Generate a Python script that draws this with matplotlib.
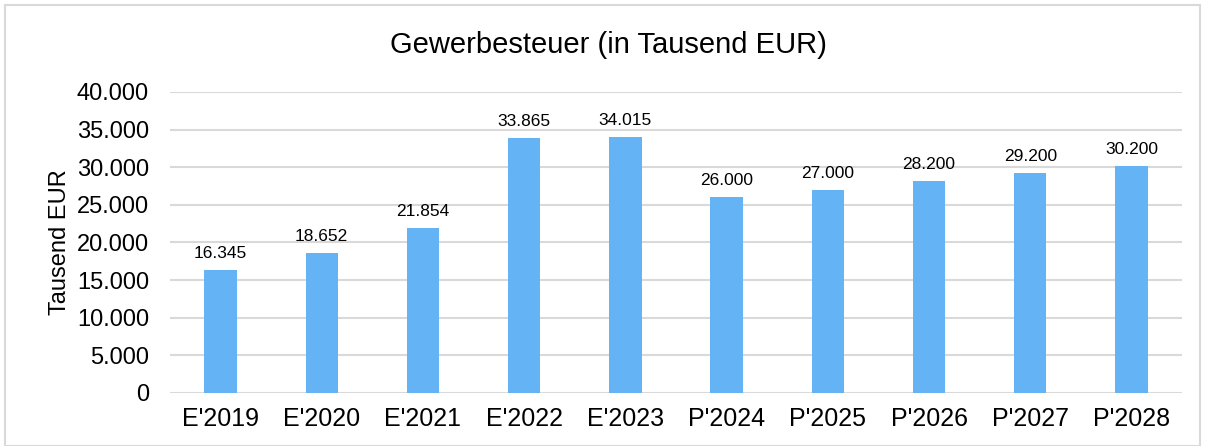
import matplotlib.pyplot as plt
from matplotlib.patches import Rectangle
from matplotlib.ticker import FuncFormatter

plt.rcParams['font.family'] = ['Liberation Sans', 'DejaVu Sans']

jahre = ["E'2019", "E'2020", "E'2021", "E'2022", "E'2023",
         "P'2024", "P'2025", "P'2026", "P'2027", "P'2028"]
werte = [16345, 18652, 21854, 33865, 34015, 26000, 27000, 28200, 29200, 30200]
y_ticks = [0, 5000, 10000, 15000, 20000, 25000, 30000, 35000, 40000]


def punkt(v, pos=None):
    return f"{int(v):,}".replace(",", ".")


fig = plt.figure(figsize=(12.05, 4.46), dpi=100)
fig.patches.append(Rectangle((5 / 1205, 0), 1195 / 1205, 441 / 446,
                             transform=fig.transFigure, fill=False,
                             edgecolor='#D9D9D9', linewidth=1.5))
ax = fig.add_axes([0.141, 0.119, 0.840, 0.675])

x = range(len(jahre))
bars = ax.bar(x, werte, width=0.32, color='#63B3F5', zorder=3)
for b, v in zip(bars, werte):
    ax.text(b.get_x() + b.get_width() / 2, v + 1200, punkt(v),
            ha='center', va='bottom', fontsize=12.5, color='#000000')

ax.set_xlim(-0.5, len(jahre) - 0.5)
ax.set_ylim(0, 40000)
ax.set_yticks(y_ticks)
ax.yaxis.set_major_formatter(FuncFormatter(punkt))
ax.set_xticks(list(x))
ax.set_xticklabels(jahre)
ax.tick_params(axis='y', length=0, labelsize=17, colors='#000000', pad=15)
ax.tick_params(axis='x', length=0, labelsize=18, colors='#000000', pad=10)
ax.grid(axis='y', color='#D9D9D9', linewidth=1.5, zorder=0)
for s in ax.spines.values():
    s.set_visible(False)

ax.set_ylabel('Tausend EUR', fontsize=17, labelpad=4)
fig.text(0.505, 0.9, 'Gewerbesteuer (in Tausend EUR)', ha='center',
         va='center', fontsize=21)

fig.savefig('out.png', dpi=100)
